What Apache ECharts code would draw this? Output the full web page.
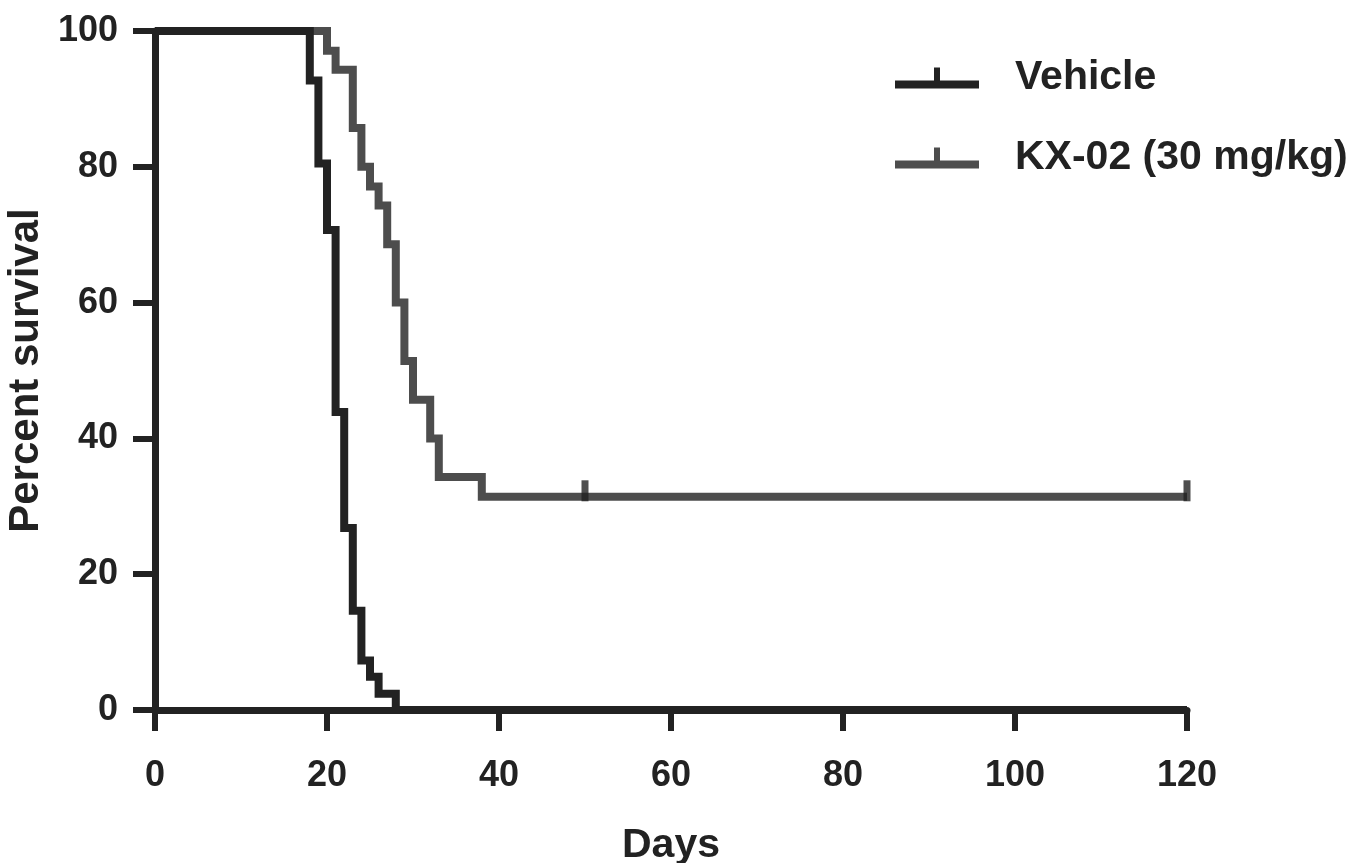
<!DOCTYPE html>
<html>
<head>
<meta charset="utf-8">
<title>Survival</title>
<script src="https://cdn.jsdelivr.net/npm/echarts@6/dist/echarts.min.js"></script>
<style>
  html, body { margin: 0; padding: 0; background: #fff; }
  #main { width: 1361px; height: 863px; }
</style>
</head>
<body>
<div id="main"></div>
<script>
// data (percent survival at each event day)
var vehDays = [0, 18, 19, 20, 21, 22, 23, 24, 25, 26, 28, 120];
var vehSurv = [100, 92.7, 80.5, 70.7, 43.9, 26.8, 14.6, 7.3, 4.9, 2.4, 0, 0];

var kxDays = [0, 20, 21, 23, 24, 25, 26, 27, 28, 29, 30, 32, 33, 38, 120];
var kxSurv = [100, 97.1, 94.3, 85.7, 80, 77.1, 74.3, 68.6, 60, 51.4, 45.7, 40, 34.3, 31.4, 31.4];

// censored observations
var kxCensorDays = [50, 120];
var kxCensorSurv = [31.4, 31.4];

var xTicks = [0, 20, 40, 60, 80, 100, 120];
var yTicks = [0, 20, 40, 60, 80, 100];

var names = ['Vehicle', 'KX-02 (30 mg/kg)'];

function pairs(xs, ys) {
    var out = [];
    for (var i = 0; i < xs.length; i++) out.push([xs[i], ys[i]]);
    return out;
}

var black = '#222222',
    grey = '#4d4d4d',
    font = '"Liberation Sans", Arial, sans-serif';

var myChart = echarts.init(document.getElementById('main'));

// legend icon: a short line with a censor tick
var icon = 'path://M0,13 L84,13 L84,21 L0,21 Z M39,0 L45,0 L45,21 L39,21 Z';

var option = {
    animation: false,
    grid: { left: 155, right: 174, top: 31, bottom: 153, outerBoundsMode: 'none' },
    legend: {
        orient: 'vertical',
        left: 895,
        top: 57,
        padding: 0,
        itemWidth: 84,
        itemHeight: 22,
        itemGap: 38,
        icon: icon,
        data: names,
        textStyle: {
            fontFamily: font,
            fontWeight: 'bold',
            fontSize: 41,
            color: black,
            lineHeight: 42,
            padding: [0, 0, 0, 31]
        }
    },
    xAxis: {
        type: 'value',
        min: 0,
        max: 120,
        interval: 20,
        name: 'Days',
        nameLocation: 'middle',
        nameGap: 115,
        nameTextStyle: { fontFamily: font, fontWeight: 'bold', fontSize: 41, color: black },
        splitLine: { show: false },
        axisLine: { lineStyle: { color: black, width: 7 } },
        axisTick: { length: 21, lineStyle: { color: black, width: 6 } },
        axisLabel: {
            margin: 48,
            fontFamily: font, fontWeight: 'bold', fontSize: 36, color: black,
            formatter: function (v) { return xTicks.indexOf(v) > -1 ? v : ''; }
        }
    },
    yAxis: {
        type: 'value',
        min: 0,
        max: 100,
        interval: 20,
        name: 'Percent survival',
        nameLocation: 'middle',
        nameGap: 108,
        nameTextStyle: { fontFamily: font, fontWeight: 'bold', fontSize: 42, color: black },
        splitLine: { show: false },
        axisLine: { show: true, lineStyle: { color: black, width: 7 } },
        axisTick: { show: true, length: 22, lineStyle: { color: black, width: 6 } },
        axisLabel: {
            margin: 37,
            fontFamily: font, fontWeight: 'bold', fontSize: 36, color: black,
            formatter: function (v) { return yTicks.indexOf(v) > -1 ? v : ''; }
        }
    },
    series: [
        {
            name: names[1],
            type: 'line',
            step: 'end',
            showSymbol: false,
            color: grey,
            lineStyle: { color: grey, width: 8, join: 'miter' },
            data: pairs(kxDays, kxSurv),
            z: 2
        },
        {
            name: names[0],
            type: 'line',
            step: 'end',
            showSymbol: false,
            color: black,
            lineStyle: { color: black, width: 8, join: 'miter' },
            data: pairs(vehDays, vehSurv),
            z: 3
        },
        {
            name: 'censored',
            type: 'scatter',
            symbol: 'rect',
            symbolSize: [7, 21],
            symbolOffset: [0, -6],
            itemStyle: { color: black },
            data: pairs(kxCensorDays, kxCensorSurv),
            z: 4
        }
    ]
};

myChart.setOption(option);
</script>
</body>
</html>
